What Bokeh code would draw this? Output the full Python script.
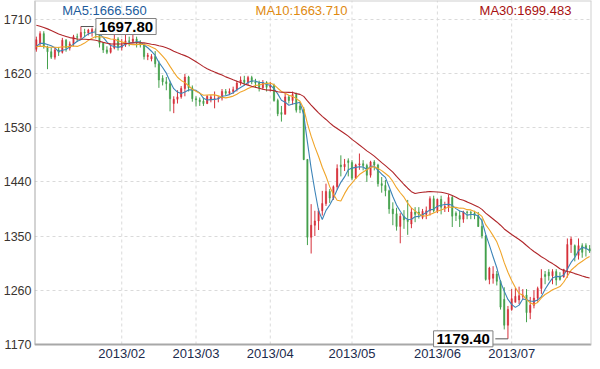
import numpy as np
import pandas as pd
from bokeh.plotting import figure
from bokeh.models import Range1d, FixedTicker, Label, ColumnDataSource
from bokeh.embed import file_html
from bokeh.resources import INLINE

# closes before the visible window (needed for the moving averages)
prior_close = [1733, 1727, 1728, 1729, 1745, 1742, 1742, 1718, 1725, 1712,
               1719, 1697, 1694, 1702, 1705, 1711, 1716, 1717, 1696, 1696,
               1680, 1667, 1668, 1649, 1658, 1660, 1664, 1665, 1658]

open_ = [1660, 1670, 1686, 1664, 1656, 1647, 1659, 1655, 1675, 1662,
         1669, 1681, 1680, 1688, 1687, 1688, 1693, 1685, 1670, 1659,
         1655, 1662, 1677, 1663, 1667, 1674, 1673, 1677, 1671, 1667,
         1648, 1644, 1648, 1636, 1612, 1606, 1603, 1570, 1577, 1581,
         1595, 1614, 1596, 1578, 1576, 1574, 1570, 1576, 1577, 1578,
         1579, 1590, 1587, 1590, 1593, 1604, 1609, 1605, 1613, 1606,
         1604, 1596, 1605, 1597, 1600, 1575, 1555, 1552, 1581, 1575,
         1585, 1566, 1560, 1477, 1348, 1368, 1375, 1392, 1404, 1424,
         1413, 1432, 1468, 1465, 1475, 1472, 1446, 1468, 1470, 1467,
         1451, 1473, 1468, 1437, 1434, 1425, 1395, 1387, 1366, 1383,
         1377, 1370, 1390, 1390, 1381, 1386, 1392, 1412, 1392, 1411,
         1396, 1399, 1414, 1388, 1384, 1378, 1390, 1389, 1388, 1384,
         1366, 1350, 1278, 1280, 1287, 1275, 1245, 1202, 1228, 1240,
         1244, 1250, 1252, 1223, 1235, 1247, 1263, 1286, 1290, 1284,
         1291, 1282, 1282, 1295, 1336, 1334, 1318, 1334, 1334, 1329]

high = [1681, 1690, 1690, 1666, 1663, 1663, 1664, 1679, 1677, 1673,
        1684, 1686, 1697.8, 1694, 1694, 1696, 1695, 1690, 1672, 1665,
        1668, 1685, 1680, 1677, 1684, 1681, 1684, 1681, 1675, 1670,
        1654, 1652, 1657, 1641, 1617, 1614, 1608, 1582, 1592, 1599,
        1619, 1616, 1600, 1582, 1580, 1580, 1584, 1584, 1590, 1582,
        1594, 1594, 1595, 1598, 1608, 1615, 1616, 1616, 1616, 1611,
        1608, 1609, 1607, 1606, 1603, 1578, 1566, 1587, 1584, 1590,
        1588, 1571, 1564, 1478, 1403, 1392, 1396, 1425, 1437, 1428,
        1434, 1469, 1484, 1478, 1479, 1476, 1470, 1487, 1476, 1470,
        1475, 1476, 1470, 1448, 1443, 1427, 1406, 1397, 1388, 1393,
        1410, 1397, 1398, 1398, 1395, 1399, 1416, 1417, 1412, 1417,
        1407, 1419, 1417, 1391, 1392, 1392, 1392, 1392, 1392, 1390,
        1379, 1352, 1299, 1300, 1292, 1277, 1265, 1234, 1262, 1264,
        1266, 1262, 1262, 1249, 1260, 1266, 1295, 1292, 1295, 1295,
        1295, 1290, 1295, 1346, 1349, 1336, 1346, 1338, 1338, 1335]

low = [1656, 1665, 1661, 1627, 1644, 1643, 1649, 1653, 1656, 1658,
       1665, 1672, 1677, 1680, 1683, 1681, 1678, 1663, 1654, 1652,
       1653, 1660, 1658, 1658, 1664, 1665, 1671, 1663, 1663, 1643,
       1642, 1640, 1630, 1596, 1600, 1592, 1557, 1554, 1570, 1578,
       1582, 1590, 1573, 1565, 1566, 1566, 1569, 1572, 1562, 1572,
       1575, 1583, 1584, 1586, 1590, 1600, 1600, 1601, 1602, 1596,
       1590, 1593, 1590, 1590, 1573, 1549, 1540, 1552, 1570, 1568,
       1555, 1554, 1476, 1335, 1321, 1350, 1360, 1384, 1400, 1405,
       1410, 1427, 1449, 1458, 1449, 1443, 1445, 1460, 1459, 1440,
       1447, 1459, 1432, 1422, 1416, 1387, 1368, 1359, 1338, 1362,
       1352, 1363, 1373, 1379, 1378, 1378, 1384, 1389, 1388, 1386,
       1390, 1390, 1365, 1375, 1365, 1372, 1378, 1378, 1378, 1365,
       1346, 1276, 1270, 1271, 1268, 1228, 1195, 1179.4, 1226, 1240,
       1237, 1245, 1207, 1212, 1230, 1241, 1254, 1270, 1276, 1270,
       1268, 1276, 1281, 1281, 1322, 1308, 1311, 1314, 1316, 1322]

close = [1676, 1686, 1664, 1656, 1647, 1659, 1655, 1675, 1662, 1669,
         1681, 1680, 1688, 1687, 1692, 1693, 1685, 1670, 1659, 1655,
         1662, 1677, 1663, 1667, 1674, 1673, 1677, 1671, 1667, 1648,
         1650, 1648, 1636, 1609, 1606, 1603, 1578, 1577, 1581, 1595,
         1614, 1596, 1578, 1576, 1573, 1570, 1582, 1581, 1578, 1579,
         1590, 1587, 1590, 1593, 1604, 1609, 1605, 1613, 1606, 1604,
         1596, 1605, 1597, 1600, 1575, 1553, 1552, 1581, 1575, 1585,
         1559, 1560, 1477, 1348, 1368, 1375, 1392, 1404, 1424, 1413,
         1432, 1462, 1465, 1469, 1472, 1446, 1468, 1470, 1467, 1451,
         1473, 1468, 1437, 1434, 1425, 1395, 1387, 1366, 1383, 1377,
         1374, 1390, 1386, 1386, 1391, 1392, 1412, 1392, 1411, 1398,
         1399, 1414, 1383, 1384, 1378, 1390, 1389, 1388, 1384, 1366,
         1350, 1278, 1297, 1287, 1275, 1232, 1202, 1228, 1246, 1250,
         1251, 1252, 1223, 1235, 1247, 1263, 1280, 1283, 1284, 1291,
         1277, 1278, 1295, 1336, 1345, 1318, 1334, 1323, 1329, 1325]

month_start = [23, 43, 63, 85, 108, 128]
month_labels = ["2013/02", "2013/03", "2013/04", "2013/05", "2013/06", "2013/07"]
y_ticks = [1170, 1260, 1350, 1440, 1530, 1620, 1710]
ma_periods = [5, 10, 30]
ma_titles = ["MA5:1666.560", "MA10:1663.710", "MA30:1699.483"]
ma_colors = ["#3d84b8", "#f0a52a", "#b0262a"]
ma_text_colors = ["#1d5c9c", "#e08a10", "#a81010"]

UP, DOWN = "#d6303a", "#44a04c"
FONT = "Liberation Sans"

n = len(close)
idx = np.arange(n)
o = np.array(open_, float)
c = np.array(close, float)
h = np.array(high, float)
l = np.array(low, float)
up = c >= o
colors = np.where(up, UP, DOWN)

src = ColumnDataSource(dict(x=idx, o=o, c=c, h=h, l=l,
                            top=np.maximum(o, c), bot=np.minimum(o, c),
                            color=colors))

allc = pd.Series(prior_close + close, dtype=float)
npre = len(prior_close)

# value axis: 1170 sits BOT px above the bottom of the frame, the month
# labels are drawn in that strip
Y0, Y1 = 1170, 1741
H, BOT = 361, 17
Yb = Y0 - (Y1 - Y0) * BOT / (H - BOT)
X0, X1 = -0.5, n - 0.5

p = figure(width=592, height=H, output_backend="svg", toolbar_location=None,
           x_range=Range1d(X0, X1), y_range=Range1d(Yb, Y1),
           min_border_left=33, min_border_right=1, min_border_top=0,
           min_border_bottom=0)
p.background_fill_color = "white"
p.border_fill_color = "white"
p.outline_line_color = None

p.xaxis.visible = False
p.xgrid.visible = False

p.yaxis.ticker = FixedTicker(ticks=y_ticks)
p.yaxis.axis_line_color = None
p.yaxis.major_tick_line_color = None
p.yaxis.minor_tick_line_color = None
p.yaxis.major_tick_out = 0
p.yaxis.major_tick_in = 0
p.yaxis.major_label_text_font = FONT
p.yaxis.major_label_standoff = 3
p.yaxis.major_label_text_font_size = "12.5px"
p.yaxis.major_label_text_color = "#3a3530"

p.ygrid.grid_line_color = "#dadada"
p.ygrid.grid_line_dash = "3 3"
p.ygrid.grid_line_width = 1

# vertical month grid lines, limited to the value area
p.segment(x0=month_start, y0=[Y0] * len(month_start), x1=month_start,
          y1=[Y1] * len(month_start), line_color="#dadada", line_dash="3 3",
          line_width=1)

# frame: darker axis lines left/bottom, light lines top/right
p.segment(x0=[X0, X0], y0=[Y0, Y0], x1=[X0, X1], y1=[Y1, Y0],
          line_color="#a8a8a8", line_width=2)
p.segment(x0=[X0, X1], y0=[Y1, Y0], x1=[X1, X1], y1=[Y1, Y1],
          line_color="#d0d0d0", line_width=2)

for xv, s in zip(month_start, month_labels):
    p.add_layout(Label(x=xv, y=Y0, y_offset=-1, text=s, text_font=FONT,
                       text_font_size="13px", text_color="#1c2b4d",
                       text_align="center", text_baseline="top"))

p.segment(x0="x", y0="l", x1="x", y1="h", color="color", line_width=1, source=src)
p.vbar(x="x", top="top", bottom="bot", width=0.35, fill_color="color",
       line_color="color", line_width=0.5, source=src)

for per, col in zip(ma_periods, ma_colors):
    ma = allc.rolling(per).mean().to_numpy()[npre:]
    p.line(idx, ma, line_color=col, line_width=1.1)

# legend texts at top
xs = [70, 267, 491]
for t, col, xx in zip(ma_titles, ma_text_colors, xs):
    p.add_layout(Label(x=xx, y=Y1, x_units="screen", y_offset=-10,
                       text=t, text_color=col, text_font=FONT,
                       text_font_size="13px", text_align="center",
                       text_baseline="middle"))

# max / min markers
imax = int(np.argmax(h))
imin = int(np.argmin(l))
hmax, lmin = h[imax], l[imin]
p.segment(x0=[imax, imin - 3.4], y0=[hmax, lmin], x1=[imax + 3.4, imin], y1=[hmax, lmin],
          line_color="#555555", line_width=1)
for xv, yv, off, al in [(imax, hmax, 15, "left"), (imin, lmin, -15, "right")]:
    p.add_layout(Label(x=xv, y=yv, x_offset=off, text=f"{yv:.2f}",
                       text_font=FONT, text_font_size="15px", text_font_style="bold",
                       text_color="black", text_align=al, text_baseline="middle",
                       background_fill_color="white", border_line_color="#808080",
                       border_line_width=1, padding=3))

open("out.html", "w").write(file_html(p, INLINE))
